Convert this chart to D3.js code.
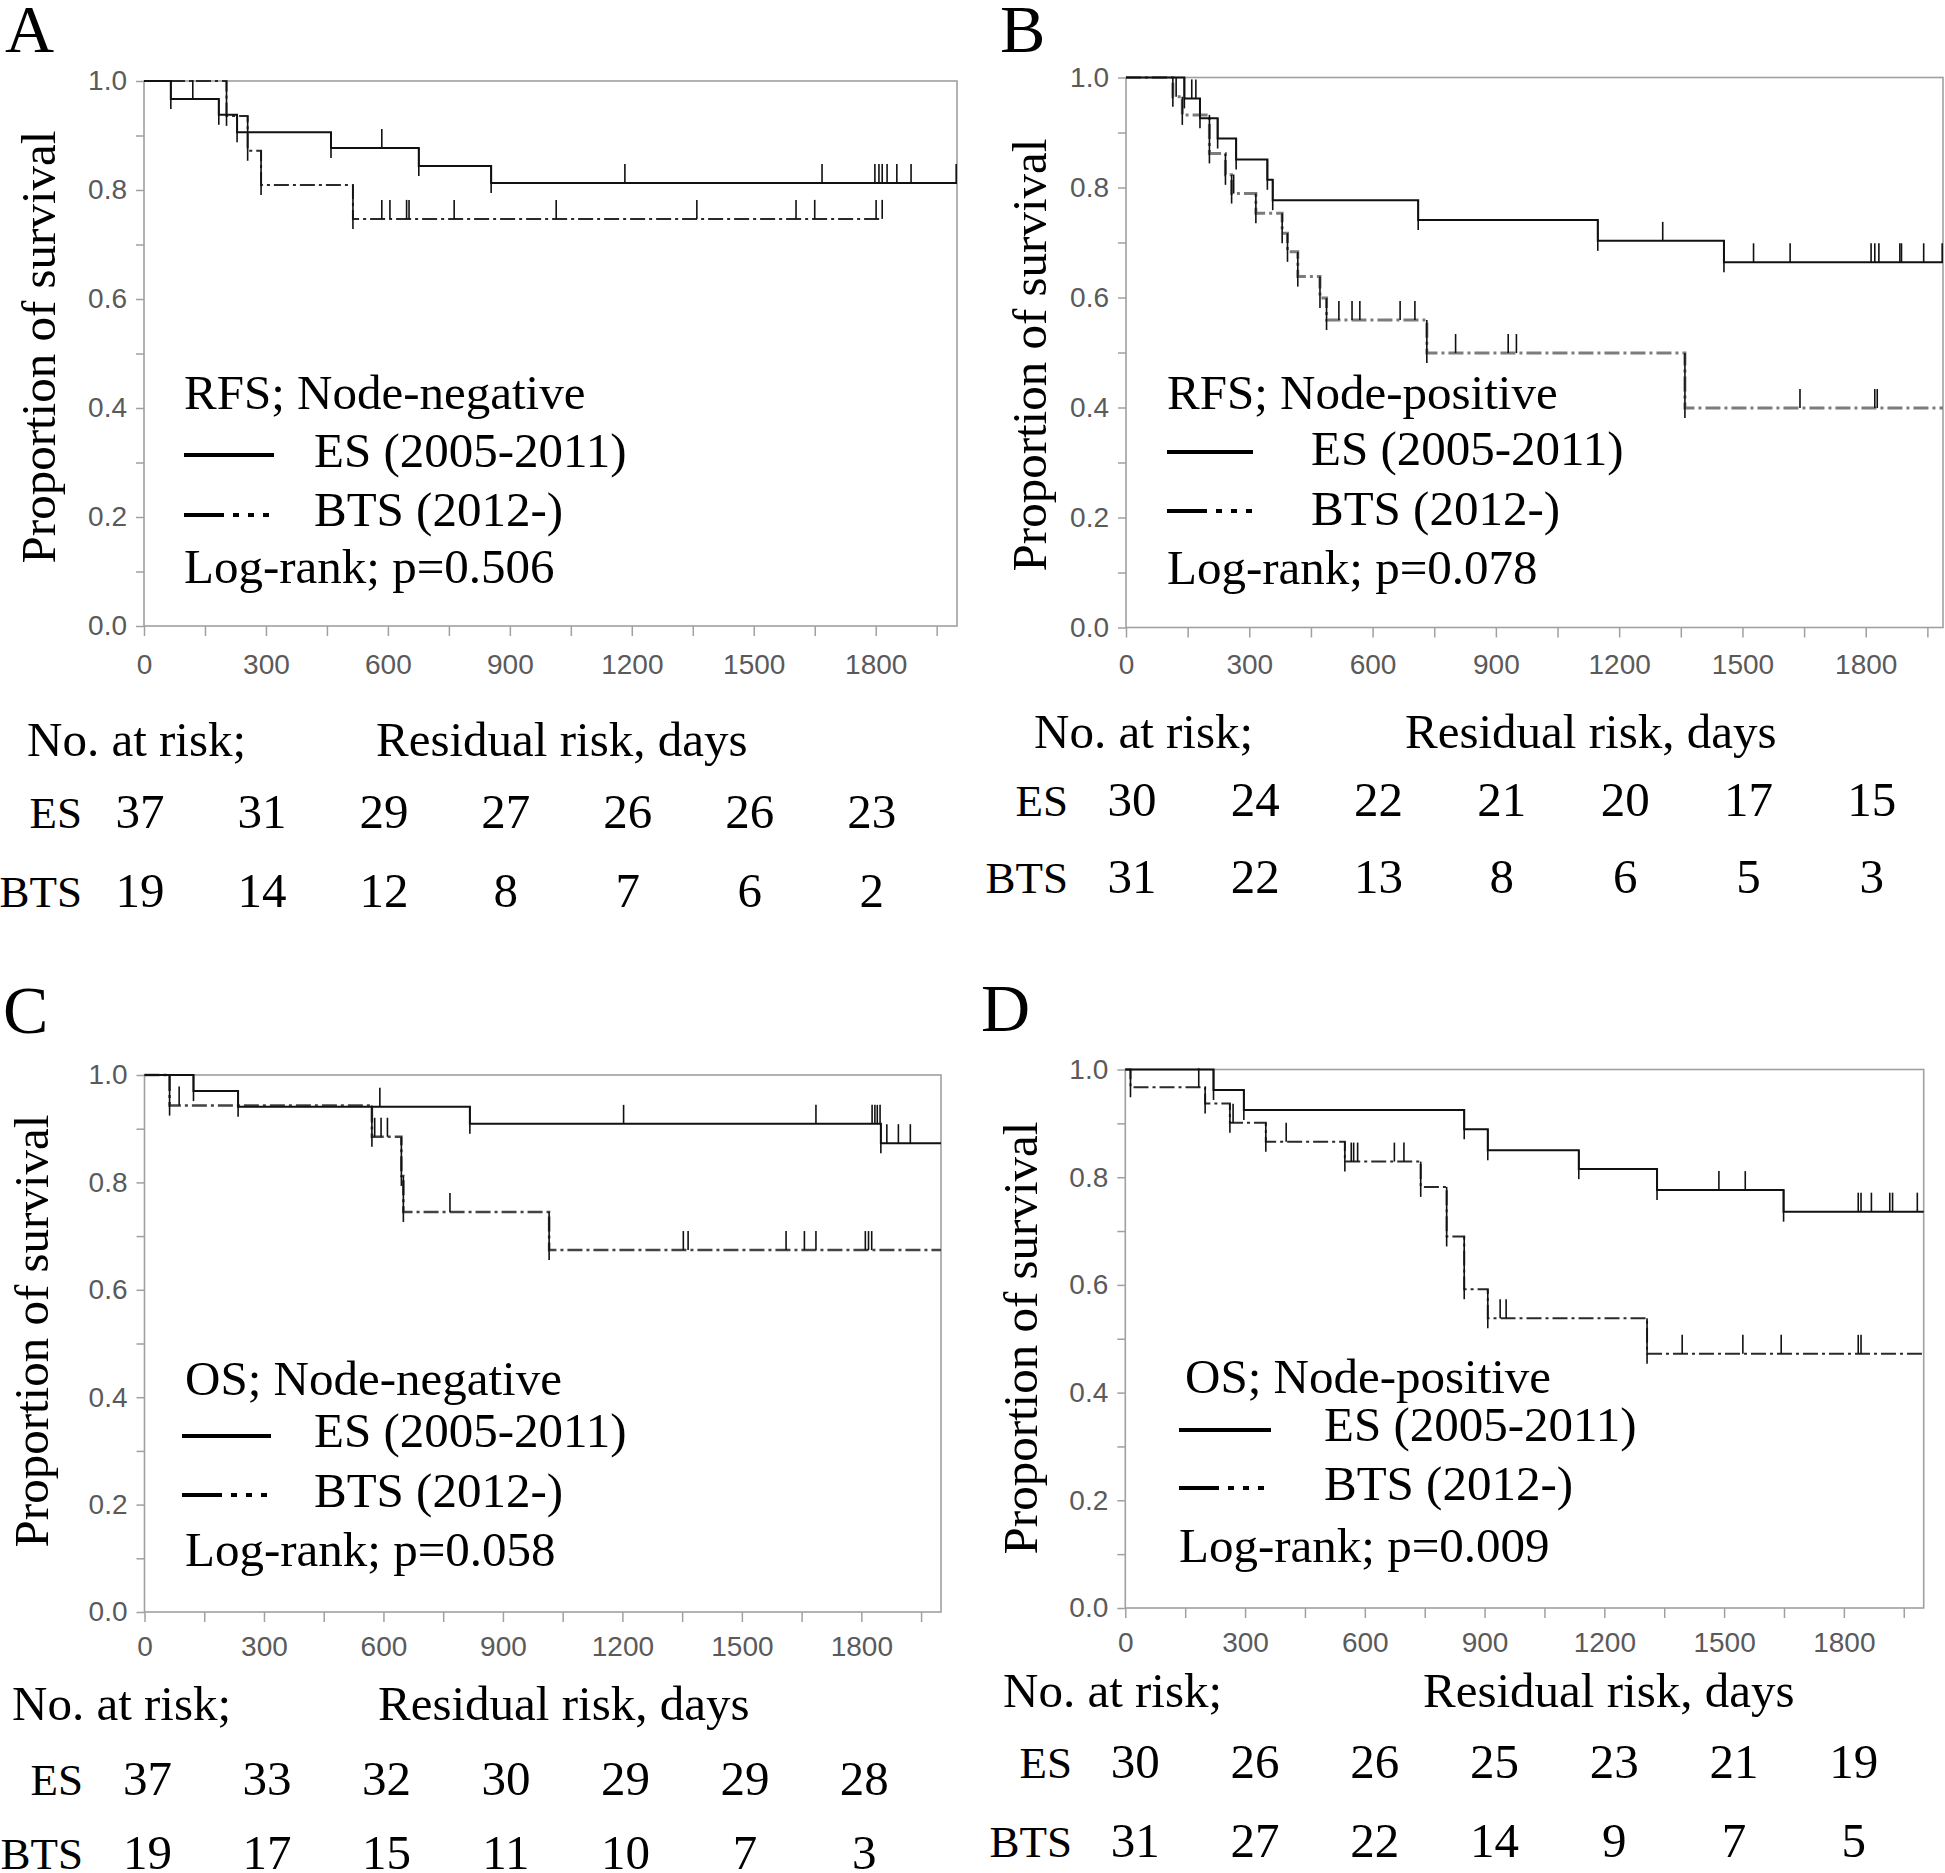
<!DOCTYPE html>
<html><head><meta charset="utf-8">
<script src="https://cdn.jsdelivr.net/npm/d3@7"></script>
<style>body{margin:0;background:#fff} svg{display:block}</style>
</head><body>
<svg id="chart" width="1945" height="1873"></svg>
<script>
// ---------------- data ----------------
const panelLetters = ["A", "B", "C", "D"];
const panelTitles = ["RFS; Node-negative", "RFS; Node-positive", "OS; Node-negative", "OS; Node-positive"];
const seriesNames = ["ES (2005-2011)", "BTS (2012-)"];
const pValues = ["0.506", "0.078", "0.058", "0.009"];
const yAxisTitle = "Proportion of survival";
const riskHeader = "No. at risk;";
const xAxisTitle = "Residual risk, days";
const riskRowLabels = ["ES", "BTS"];
const xTickLabels = [0, 300, 600, 900, 1200, 1500, 1800];
const yTickLabels = [0.0, 0.2, 0.4, 0.6, 0.8, 1.0];
const riskTimes = [0, 300, 600, 900, 1200, 1500, 1800];

const riskES = [
  [37, 31, 29, 27, 26, 26, 23],
  [30, 24, 22, 21, 20, 17, 15],
  [37, 33, 32, 30, 29, 29, 28],
  [30, 26, 26, 25, 23, 21, 19]
];
const riskBTS = [
  [19, 14, 12, 8, 7, 6, 2],
  [31, 22, 13, 8, 6, 5, 3],
  [19, 17, 15, 11, 10, 7, 3],
  [31, 27, 22, 14, 9, 7, 5]
];

// events: [day, survival after the event]
const esEvents = [
  [[66, 0.967], [184, 0.938], [229, 0.906], [460, 0.877], [676, 0.844], [854, 0.813]],
  [[142, 0.962], [180, 0.926], [223, 0.889], [268, 0.851], [344, 0.814], [357, 0.777], [711, 0.741], [1148, 0.703], [1455, 0.664]],
  [[123, 0.970], [235, 0.941], [817, 0.909], [1849, 0.873]],
  [[221, 0.962], [297, 0.925], [849, 0.889], [908, 0.850], [1136, 0.815], [1332, 0.776], [1649, 0.736]]
];
const esCensors = [
  [120, 585, 1183, 1668, 1798, 1808, 1816, 1828, 1852, 1887, 1998],
  [160, 170, 1306, 1527, 1616, 1813, 1822, 1832, 1883, 1887, 1941, 1986],
  [591, 1203, 1686, 1827, 1834, 1840, 1847, 1864, 1893, 1923],
  [1487, 1553, 1836, 1843, 1869, 1915, 1922, 1984]
];
const esEnd = [2000, 1988, 2000, 2000];

const btsEvents = [
  [[203, 0.936], [255, 0.872], [288, 0.809], [514, 0.747]],
  [[114, 0.965], [137, 0.932], [203, 0.862], [242, 0.823], [257, 0.789], [316, 0.753], [380, 0.717], [393, 0.683], [418, 0.638], [472, 0.599], [488, 0.559], [732, 0.499], [1360, 0.399]],
  [[63, 0.943], [571, 0.885], [645, 0.812], [650, 0.745], [1016, 0.674]],
  [[13, 0.967], [200, 0.937], [262, 0.901], [352, 0.866], [550, 0.829], [740, 0.782], [805, 0.690], [849, 0.592], [908, 0.538], [1307, 0.472]]
];
const btsCensors = [
  [585, 605, 646, 652, 763, 1014, 1360, 1604, 1650, 1801, 1816],
  [122, 262, 518, 550, 569, 667, 703, 802, 930, 950, 1640, 1822, 1828],
  [87, 578, 594, 610, 767, 1353, 1365, 1611, 1657, 1686, 1810, 1818, 1826],
  [184, 270, 403, 566, 572, 582, 674, 698, 939, 954, 1395, 1547, 1643, 1836, 1843]
];
const btsEnd = [1818, 1988, 2000, 2000];

// ---------------- layout (pixels) ----------------
const layouts = [
  {left: 144, right: 957, top: 81, bottom: 626, xMax: 2000, labelPad: 18,
   letter: [5, 52], yTitle: [55, 347],
   title: [184, 409], esLine: [184, 274, 455], esText: [314, 467], btsLine: 515, btsText: [314, 526], logrank: [184, 583],
   riskHead: [27, 756], riskTitle: [376, 756], rowRight: 82, rowY: [828, 907], riskOff: -4, btsColor: "#2a2a2a", btsWidth: 2},
  {left: 1126, right: 1943, top: 77.5, bottom: 627.5, xMax: 1988, labelPad: 17,
   letter: [1000, 52], yTitle: [1046, 355],
   title: [1167, 409], esLine: [1167, 1253, 452], esText: [1311, 465], btsLine: 511, btsText: [1311, 525], logrank: [1167, 584],
   riskHead: [1034, 748], riskTitle: [1405, 748], rowRight: 1068, rowY: [816, 893], riskOff: 6, btsColor: "#7c7c7c", btsWidth: 3},
  {left: 144.5, right: 941, top: 1075, bottom: 1612, xMax: 2000, labelPad: 14,
   letter: [3, 1033], yTitle: [48, 1331],
   title: [185, 1395], esLine: [182, 271, 1436], esText: [314, 1447], btsLine: 1495, btsText: [314, 1507], logrank: [185, 1566],
   riskHead: [12, 1720], riskTitle: [378, 1720], rowRight: 83, rowY: [1795, 1869], riskOff: 3, btsColor: "#444", btsWidth: 2.5},
  {left: 1125.3, right: 1923.7, top: 1069.5, bottom: 1608, xMax: 2000, labelPad: 14,
   letter: [981, 1031], yTitle: [1037, 1338],
   title: [1185, 1393], esLine: [1179, 1271, 1430], esText: [1324, 1441], btsLine: 1488, btsText: [1324, 1500], logrank: [1179, 1562],
   riskHead: [1003, 1707], riskTitle: [1423, 1707], rowRight: 1072, rowY: [1778, 1857], riskOff: 10, btsColor: "#2a2a2a", btsWidth: 2}
];

const SERIF = "'Liberation Serif', 'Times New Roman', serif";
const SANS = "'Liberation Sans', Arial, sans-serif";
const FS = 49;
const ROW_FS = 45;
const svg = d3.select("#chart");

function levelAt(events, t) {
  let s = 1;
  for (const [et, es] of events) { if (et <= t) s = es; }
  return s;
}
function stepPoints(events, end) {
  const pts = [[0, 1]];
  let prev = 1;
  for (const [t, s] of events) { pts.push([t, prev]); pts.push([t, s]); prev = s; }
  pts.push([end, prev]);
  return pts;
}

layouts.forEach((L, i) => {
  const g = svg.append("g");
  const x = d3.scaleLinear().domain([0, L.xMax]).range([L.left, L.right]);
  const y = d3.scaleLinear().domain([0, 1]).range([L.bottom, L.top]);

  // axes
  const yAxis = d3.axisLeft(y)
    .tickValues(d3.range(11).map(k => k / 10))
    .tickSize(8).tickPadding(9)
    .tickFormat(d => yTickLabels.some(v => Math.abs(v - d) < 1e-6) ? d3.format(".1f")(d) : "");
  const xAxis = d3.axisBottom(x)
    .tickValues(d3.range(0, L.xMax + 1, 150))
    .tickSize(10).tickPadding(L.labelPad)
    .tickFormat(d => xTickLabels.includes(d) ? d : "");
  const gy = g.append("g").attr("transform", `translate(${L.left},0)`).call(yAxis);
  const gx = g.append("g").attr("transform", `translate(0,${L.bottom})`).call(xAxis);
  [gx, gy].forEach(a => {
    a.select(".domain").remove();
    a.selectAll(".tick line").attr("stroke", "#a0a0a0").attr("stroke-width", 1.5);
    a.selectAll(".tick text").attr("fill", "#5a5a5a").style("font-family", SANS).style("font-size", "28px");
  });
  g.append("rect").attr("x", L.left).attr("y", L.top)
    .attr("width", L.right - L.left).attr("height", L.bottom - L.top)
    .attr("fill", "none").attr("stroke", "#a0a0a0").attr("stroke-width", 1.6);

  const line = d3.line().x(d => x(d[0])).y(d => y(d[1]));
  const series = [
    {ev: btsEvents[i], ce: btsCensors[i], end: btsEnd[i], color: L.btsColor, w: L.btsWidth, dash: "15,4,3,4"},
    {ev: esEvents[i], ce: esCensors[i], end: esEnd[i], color: "#111", w: 2, dash: null}
  ];
  series.forEach(S => {
    g.append("path").attr("d", line(stepPoints(S.ev, S.end)))
      .attr("fill", "none").attr("stroke", S.color).attr("stroke-width", S.w)
      .attr("stroke-dasharray", S.dash);
    let prev = 1;
    S.ev.forEach(([t, s]) => {
      g.append("line").attr("x1", x(t)).attr("x2", x(t))
        .attr("y1", y(prev)).attr("y2", y(s) + 10)
        .attr("stroke", "#111").attr("stroke-width", 1.6);
      prev = s;
    });
    S.ce.forEach(c => {
      const s = levelAt(S.ev, c);
      g.append("line").attr("x1", x(c)).attr("x2", x(c))
        .attr("y1", y(s)).attr("y2", y(s) - 19)
        .attr("stroke", "#111").attr("stroke-width", 1.6);
    });
  });

  const txt = (xx, yy, s, size, anchor) => g.append("text").attr("x", xx).attr("y", yy)
    .attr("text-anchor", anchor || "start").style("font-family", SERIF)
    .style("font-size", (size || FS) + "px").attr("fill", "#000").text(s);

  txt(L.letter[0], L.letter[1], panelLetters[i], 68);
  g.append("text").attr("transform", `translate(${L.yTitle[0]},${L.yTitle[1]}) rotate(-90)`)
    .attr("text-anchor", "middle").style("font-family", SERIF).style("font-size", "49px").text(yAxisTitle);

  // legend
  txt(L.title[0], L.title[1], panelTitles[i]);
  g.append("line").attr("x1", L.esLine[0]).attr("x2", L.esLine[1]).attr("y1", L.esLine[2]).attr("y2", L.esLine[2])
    .attr("stroke", "#000").attr("stroke-width", 4);
  txt(L.esText[0], L.esText[1], seriesNames[0]);
  g.append("line").attr("x1", L.esLine[0]).attr("x2", L.esLine[1]).attr("y1", L.btsLine).attr("y2", L.btsLine)
    .attr("stroke", "#000").attr("stroke-width", 4).attr("stroke-dasharray", "40,9,6,9,6,9,6,40");
  txt(L.btsText[0], L.btsText[1], seriesNames[1]);
  txt(L.logrank[0], L.logrank[1], "Log-rank; p=" + pValues[i]);

  // number at risk
  txt(L.riskHead[0], L.riskHead[1], riskHeader);
  txt(L.riskTitle[0], L.riskTitle[1], xAxisTitle);
  [riskES[i], riskBTS[i]].forEach((row, r) => {
    txt(L.rowRight, L.rowY[r], riskRowLabels[r], ROW_FS, "end");
    row.forEach((n, k) => txt(x(riskTimes[k]) + L.riskOff, L.rowY[r], n, FS, "middle"));
  });
});
</script>
</body></html>
